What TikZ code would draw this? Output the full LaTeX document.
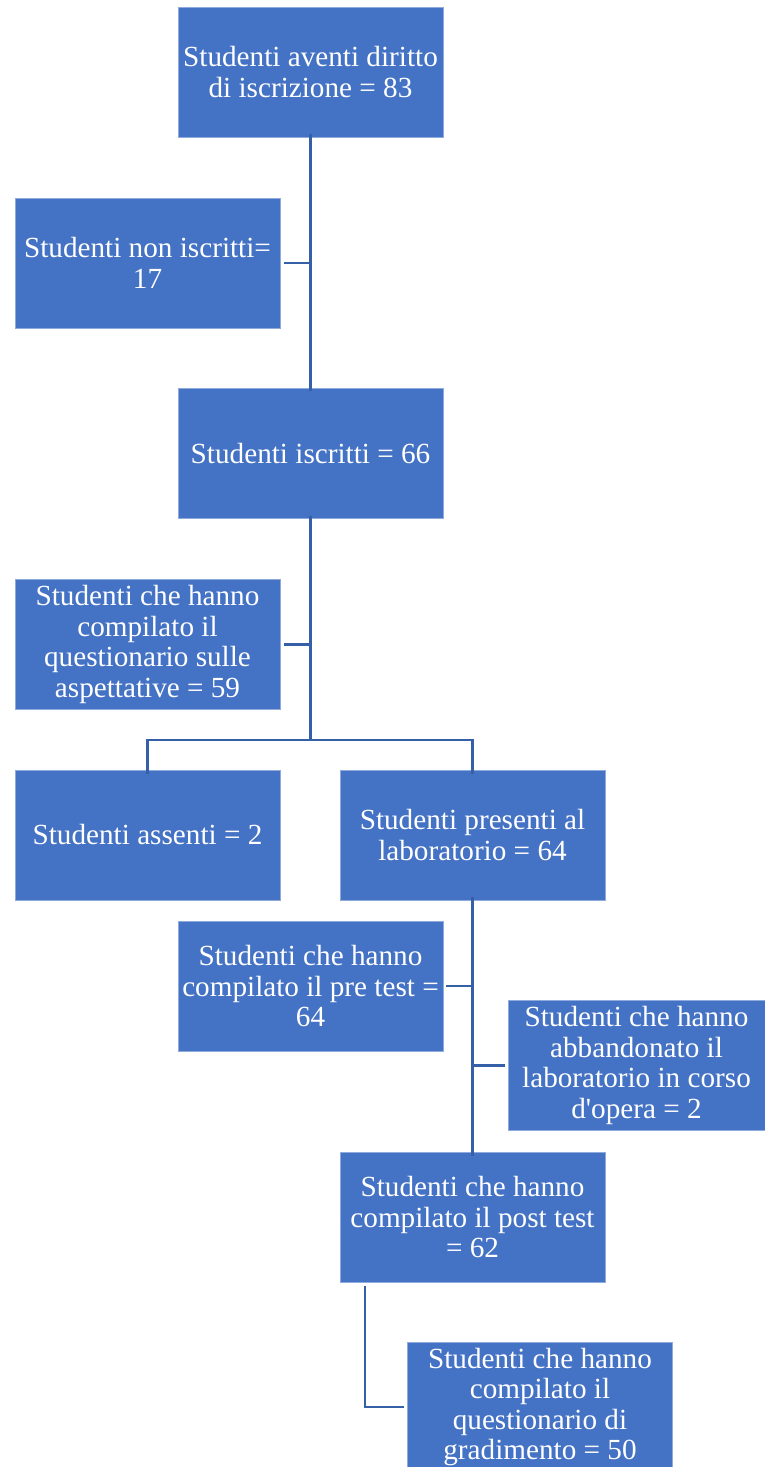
\documentclass[tikz,border=0pt]{standalone}
\usepackage{fontspec}
\setmainfont{Liberation Serif}
\definecolor{boxblue}{HTML}{4472C4}
\definecolor{lineblue}{HTML}{3560A8}
\begin{document}
\begin{tikzpicture}[x=1pt,y=-1pt,
  box/.style={fill=boxblue, draw=boxblue!60!white, line width=0.6pt, text=white,
    minimum width=265pt, minimum height=130pt, align=center, inner sep=0pt,
    font=\fontsize{29.2}{30.5}\selectfont},
  conn/.style={draw=lineblue, line width=2.5pt}]
\useasboundingbox (0,0) rectangle (765,1467);
\node[box] (n1) at (310.5,72) {Studenti aventi diritto\\di iscrizione = 83};
\node[box] (n2) at (147.5,263) {Studenti non iscritti=\\17};
\node[box] (n3) at (310.5,453.5) {Studenti iscritti = 66};
\node[box] (n4) at (147.5,644.5) {Studenti che hanno\\compilato il\\questionario sulle\\aspettative = 59};
\node[box] (n5) at (147.5,835) {Studenti assenti = 2};
\node[box] (n6) at (472.5,835) {Studenti presenti al\\laboratorio = 64};
\node[box] (n7) at (310.5,986) {Studenti che hanno\\compilato il pre test =\\64};
\node[box, minimum width=257pt] (n8) at (636.5,1065.5) {Studenti che hanno\\abbandonato il\\laboratorio in corso\\d\textquotesingle opera = 2};
\node[box] (n9) at (472.5,1217) {Studenti che hanno\\compilato il post test\\= 62};
\node[box] (n10) at (540,1407) {Studenti che hanno\\compilato il\\questionario di\\gradimento = 50};
\coordinate (split) at (310.5,740);
\coordinate (c9) at (365,1286);
% connectors
\draw[conn] ([yshift=3pt]n1.south) -- ([yshift=-3pt]n3.north);
\draw[conn] ([xshift=4pt]n2.east) -- (n2.east -| n1.south);
\draw[conn] ([yshift=3pt]n3.south) -- (split);
\draw[conn] ([xshift=4pt]n4.east) -- (n4.east -| n3.south);
\draw[conn] ([yshift=-4pt]n5.north) |- (split) -| ([yshift=-4pt]n6.north);
\draw[conn] ([yshift=3pt]n6.south) -- ([yshift=-4pt]n9.north);
\draw[conn] ([xshift=3pt]n7.east) -- (n7.east -| n6.south);
\draw[conn] ([xshift=-3pt]n8.west) -- (n8.west -| n6.south);
\draw[conn] (c9) |- ([xshift=-3pt]n10.west);
\end{tikzpicture}
\end{document}
